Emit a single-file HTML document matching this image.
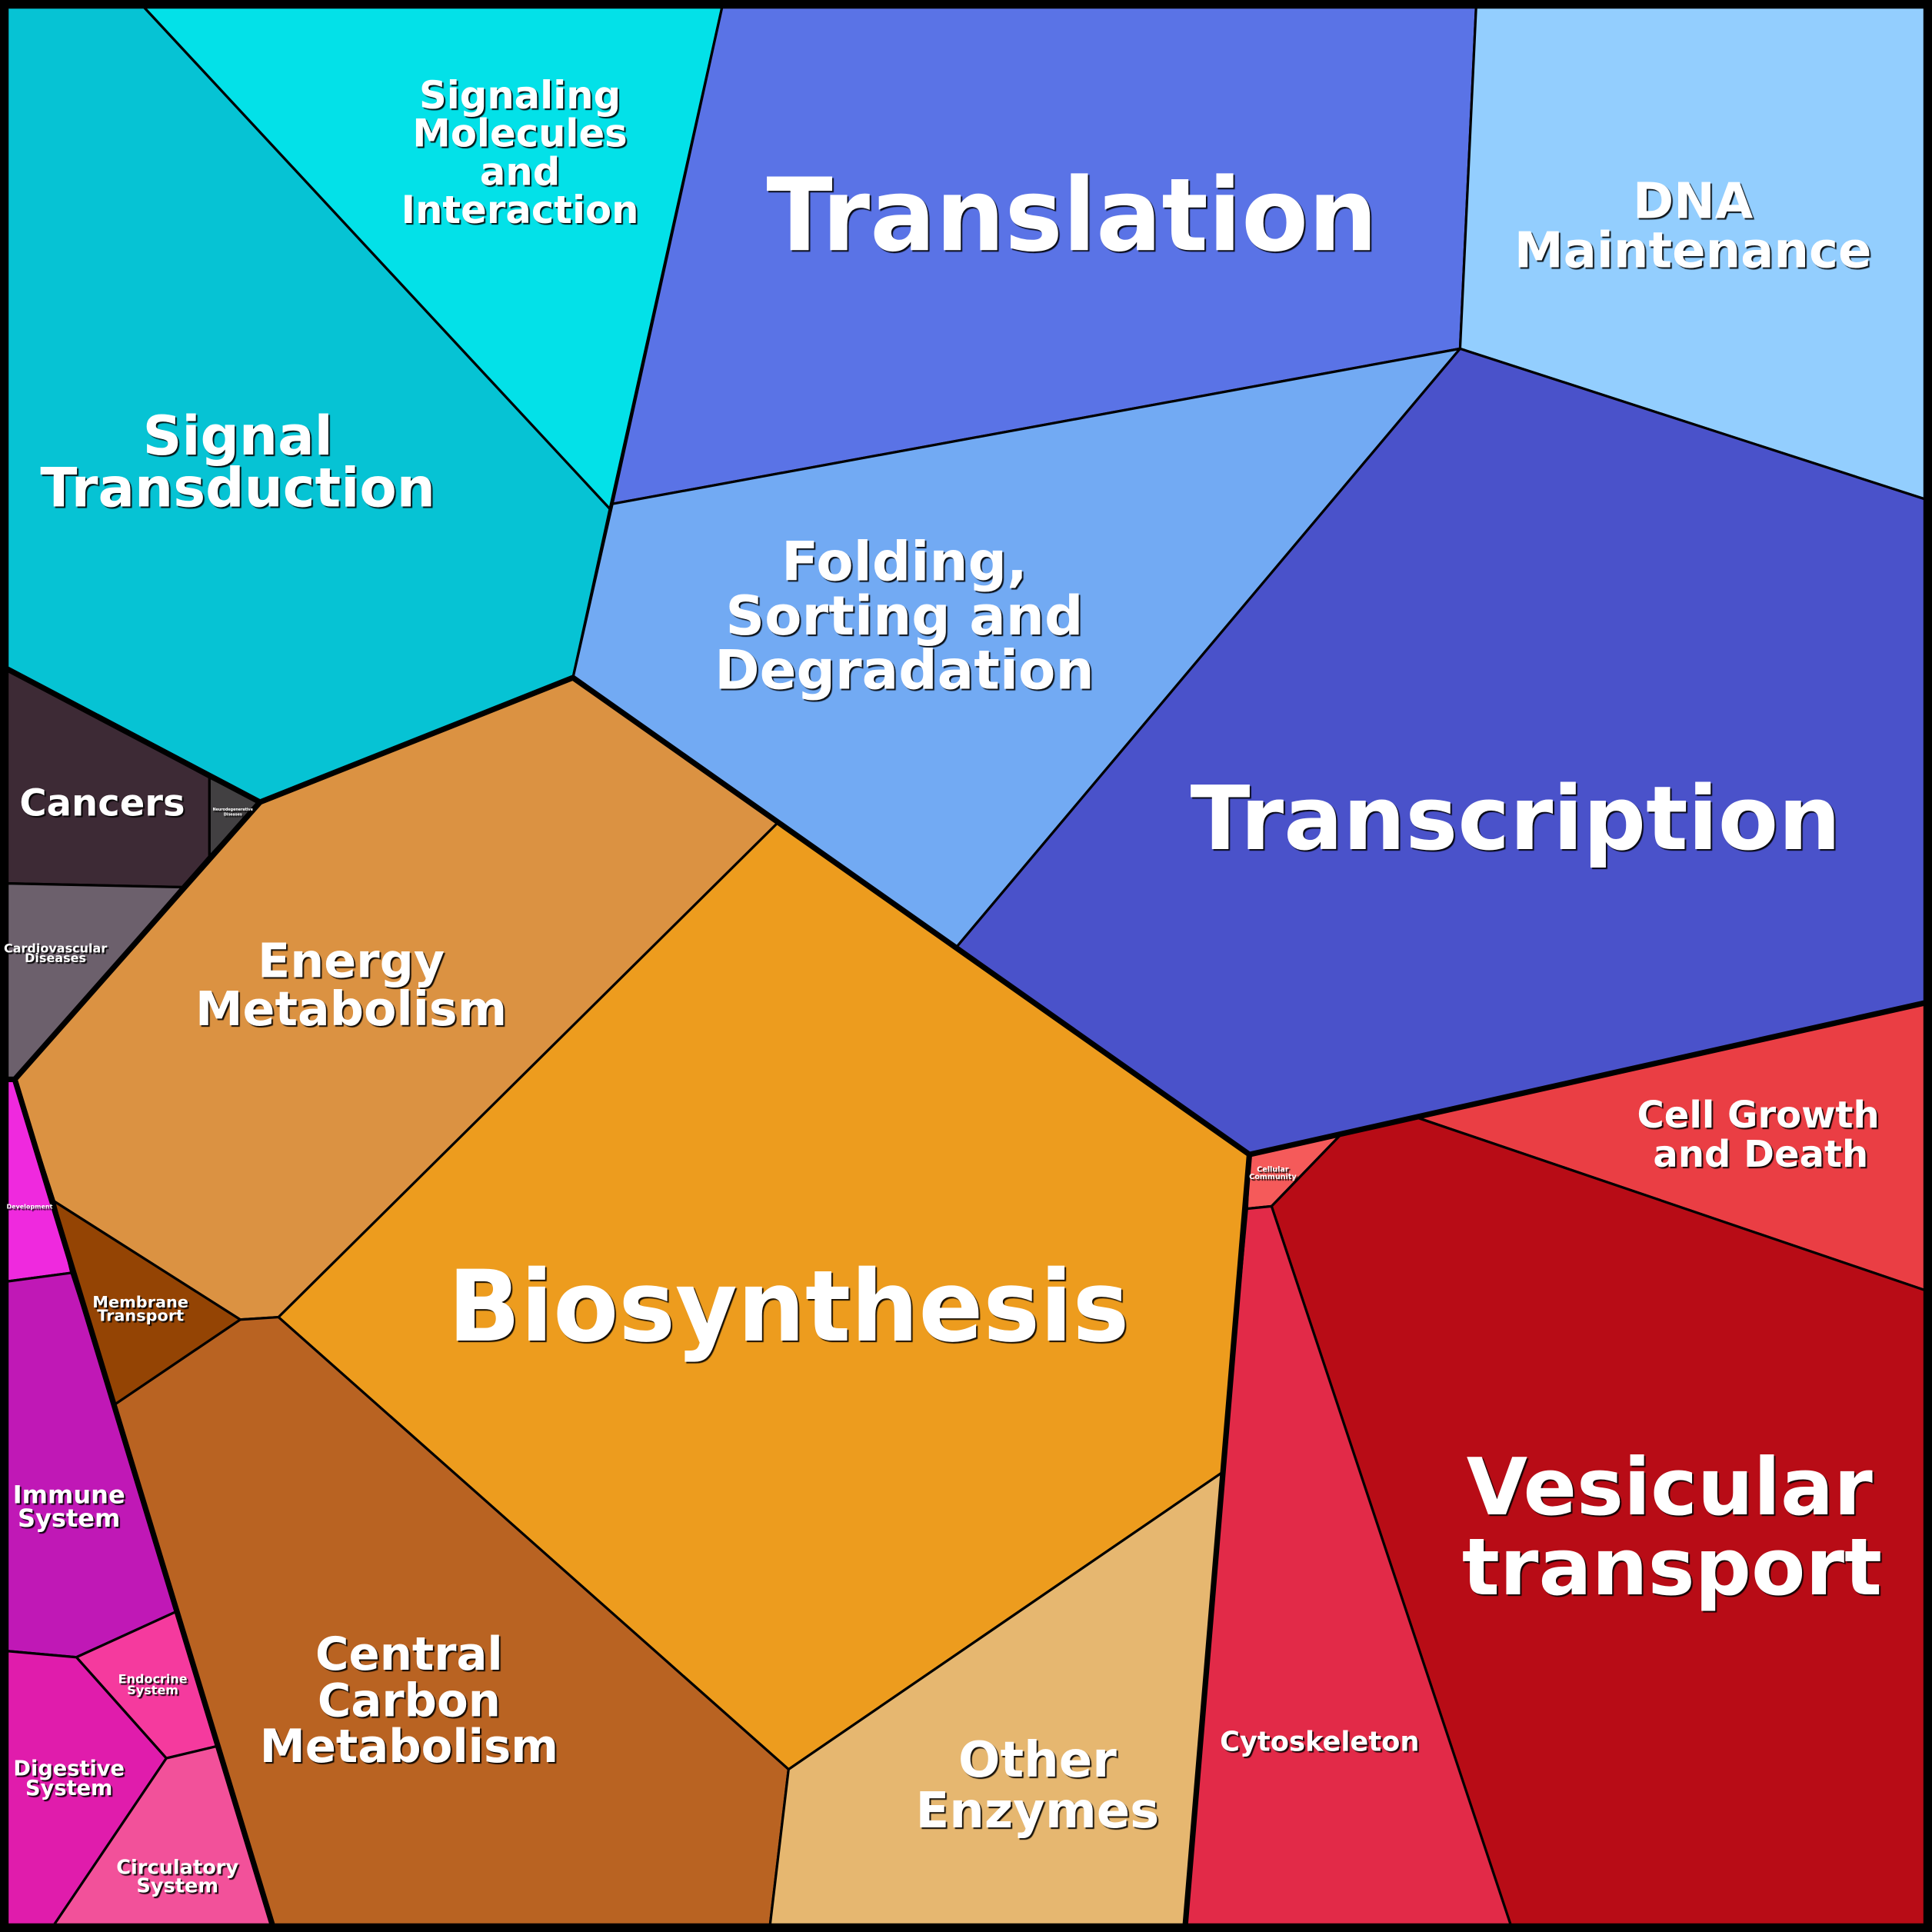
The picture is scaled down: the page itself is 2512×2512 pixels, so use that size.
<!DOCTYPE html>
<html><head><meta charset="utf-8"><style>
html,body{margin:0;padding:0;background:#000}
svg{display:block}
text{font-family:"DejaVu Sans","Liberation Sans",sans-serif;font-weight:bold;fill:#fff;text-anchor:middle;text-shadow:2px 2px 1px rgba(0,0,0,0.9)}
</style></head><body>
<svg width="2512" height="2512" viewBox="0 0 1568 1568" xmlns="http://www.w3.org/2000/svg">
<rect x="0" y="0" width="1568" height="1568" fill="#000"/>
<g stroke="#000" stroke-width="2" stroke-linejoin="round">
<polygon fill="#06c3d4" points="6,6 117,6 495,413 465,550 211,651 6,543"/>
<polygon fill="#03e1e8" points="117,6 586,6 495,413"/>
<polygon fill="#5a73e6" points="586,6 1198,6 1185,283 497,409"/>
<polygon fill="#93cefe" points="1198,6 1562,6 1562,405 1185,283"/>
<polygon fill="#72aaf3" points="497,409 1185,283 776,769 631,668 465,550"/>
<polygon fill="#4a52ca" points="1185,283 1562,405 1562,814 1014,937 776,769"/>
<polygon fill="#3d2a35" points="6,543 170,631 170,695 148,720 6,717"/>
<polygon fill="#424042" points="170,631 211,651 170,695"/>
<polygon fill="#6c606c" points="6,717 148,720 12,876 6,876"/>
<polygon fill="#db9242" points="211,651 465,550 631,668 226,1069 195,1071 44,975 12,876 148,720 170,695"/>
<polygon fill="#ed9c1e" points="631,668 776,769 1014,937 992,1195 640,1436 226,1069"/>
<polygon fill="#ef29de" points="6,876 12,876 44,975 58,1033 6,1040"/>
<polygon fill="#944404" points="44,975 195,1071 93,1140 58,1033"/>
<polygon fill="#c018b6" points="6,1040 58,1033 93,1140 143,1308 62,1345 6,1340"/>
<polygon fill="#f53a9e" points="62,1345 143,1308 177,1417 135,1427"/>
<polygon fill="#e01cac" points="6,1340 62,1345 135,1427 44,1562 6,1562"/>
<polygon fill="#f2519a" points="135,1427 177,1417 221,1562 44,1562"/>
<polygon fill="#b96322" points="93,1140 195,1071 226,1069 640,1436 625,1562 221,1562"/>
<polygon fill="#e6b770" points="640,1436 992,1195 962,1562 625,1562"/>
<polygon fill="#f55a5a" points="1014,937 1090,919 1032,979 1012,981"/>
<polygon fill="#ea3e44" points="1090,919 1562,814 1562,1047 1150,907"/>
<polygon fill="#b80c16" points="1090,919 1150,907 1562,1047 1562,1562 1226,1562 1032,979"/>
<polygon fill="#e22a48" points="1012,981 1032,979 1226,1562 962,1562 992,1195"/>
</g>
<g fill="none" stroke="#000" stroke-width="4.5" stroke-linejoin="round">
<polyline points="6,543 211,651 465,550 1014,937 1562,814"/>
<polyline points="211,651 12,876 221,1562"/>
<polyline points="1014,937 962,1562"/>
<polyline points="6,876 12,876"/>
</g>
<rect x="3" y="3" width="1562" height="1562" fill="none" stroke="#000" stroke-width="7"/>
<text font-size="31"><tspan x="422" y="88">Signaling</tspan><tspan x="422" y="119">Molecules</tspan><tspan x="422" y="150">and</tspan><tspan x="422" y="181">Interaction</tspan></text>
<text font-size="82" x="870" y="203" textLength="496" lengthAdjust="spacingAndGlyphs">Translation</text>
<text font-size="40"><tspan x="1374" y="177">DNA</tspan><tspan x="1374" y="217">Maintenance</tspan></text>
<text font-size="44"><tspan x="193" y="369">Signal</tspan><tspan x="193" y="411">Transduction</tspan></text>
<text font-size="44"><tspan x="734" y="471">Folding,</tspan><tspan x="734" y="515">Sorting and</tspan><tspan x="734" y="559">Degradation</tspan></text>
<text font-size="72" x="1230" y="689" textLength="528" lengthAdjust="spacingAndGlyphs">Transcription</text>
<text font-size="30" x="83" y="662">Cancers</text>
<text font-size="3"><tspan x="189" y="658">Neurodegenerative</tspan><tspan x="189" y="662">Diseases</tspan></text>
<text font-size="10"><tspan x="45" y="773">Cardiovascular</tspan><tspan x="45" y="781">Diseases</tspan></text>
<text font-size="38.6"><tspan x="285" y="793">Energy</tspan><tspan x="285" y="832">Metabolism</tspan></text>
<text font-size="80" x="640" y="1088" textLength="553" lengthAdjust="spacingAndGlyphs">Biosynthesis</text>
<text font-size="5" x="24" y="981">Development</text>
<text font-size="13"><tspan x="114" y="1061">Membrane</tspan><tspan x="114" y="1072">Transport</tspan></text>
<text font-size="20"><tspan x="56" y="1220">Immune</tspan><tspan x="56" y="1239">System</tspan></text>
<text font-size="37"><tspan x="332" y="1355">Central</tspan><tspan x="332" y="1393">Carbon</tspan><tspan x="332" y="1430">Metabolism</tspan></text>
<text font-size="40"><tspan x="842" y="1442">Other</tspan><tspan x="842" y="1483">Enzymes</tspan></text>
<text font-size="10"><tspan x="124" y="1366">Endocrine</tspan><tspan x="124" y="1375">System</tspan></text>
<text font-size="17"><tspan x="56" y="1441">Digestive</tspan><tspan x="56" y="1457">System</tspan></text>
<text font-size="16"><tspan x="144" y="1521">Circulatory</tspan><tspan x="144" y="1536">System</tspan></text>
<text font-size="22" x="1071" y="1421">Cytoskeleton</text>
<text font-size="64"><tspan x="1355" y="1229">Vesicular</tspan><tspan x="1357" y="1294">transport</tspan></text>
<text font-size="30"><tspan x="1427" y="915">Cell Growth</tspan><tspan x="1429" y="947">and Death</tspan></text>
<text font-size="6"><tspan x="1033" y="951">Cellular</tspan><tspan x="1033" y="957">Community</tspan></text>
</svg>
</body></html>
